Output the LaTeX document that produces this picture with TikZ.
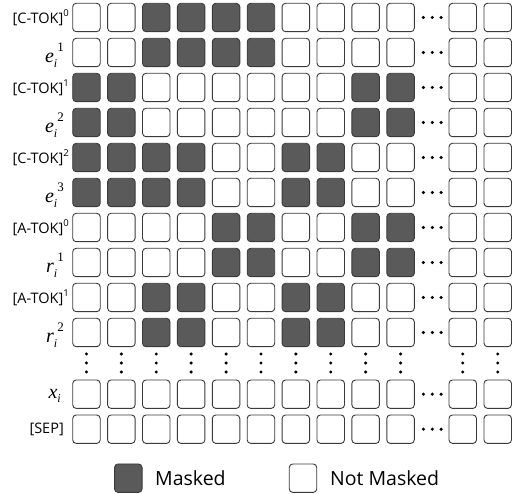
\documentclass[tikz,border=0pt]{standalone}
\usepackage{fontspec}
\setmainfont{Open Sans}
\newfontfamily\serifit{Liberation Serif}[ItalicFont=* Italic]
\definecolor{maskfill}{HTML}{5A5A5A}
\definecolor{edgecol}{HTML}{3A3A3A}
\newcommand{\mylab}[3]{{\serifit\itshape\fontsize{20}{20}\selectfont #1\raisebox{-5pt}{\fontsize{12}{12}\selectfont #2}\raisebox{11pt}{\fontsize{13}{13}\selectfont\upshape #3}}}
\newcommand{\toklab}[2]{{\fontsize{14.5}{14.5}\selectfont [#1]\raisebox{0.45em}{\fontsize{9.5}{9.5}\selectfont #2}}}
\begin{document}
\begin{tikzpicture}[x=1pt,y=-1pt,
  cell/.style={draw=edgecol, rounded corners=3.5pt, minimum width=27.5pt, minimum height=28.4pt, inner sep=0pt, line width=0.9pt, fill=white},
  dark/.style={cell, fill=maskfill},
  lab/.style={anchor=east, inner sep=0pt},
  mlab/.style={anchor=base east, inner sep=0pt}]
\useasboundingbox (0,0) rectangle (512,494);
% mask rows
\foreach \r/\pat in {0/{0,0,1,1,1,1,0,0,0,0},1/{0,0,1,1,1,1,0,0,0,0},2/{1,1,0,0,0,0,0,0,1,1},3/{1,1,0,0,0,0,0,0,1,1},4/{1,1,1,1,0,0,1,1,0,0},5/{1,1,1,1,0,0,1,1,0,0},6/{0,0,0,0,1,1,0,0,1,1},7/{0,0,0,0,1,1,0,0,1,1},8/{0,0,1,1,0,0,1,1,0,0},9/{0,0,1,1,0,0,1,1,0,0}}{
  \pgfmathsetmacro{\yc}{17.5+35*\r}
  \foreach \v [count=\c] in \pat {
    \ifnum\v=1
      \node[dark] (b-\r-\c) at ({86.45+34.9*(\c-1)},\yc) {};
    \else
      \node[cell] (b-\r-\c) at ({86.45+34.9*(\c-1)},\yc) {};
    \fi
  }
  \node[cell] (b-\r-11) at (462.75,\yc) {};
  \node[cell] (b-\r-12) at (497.75,\yc) {};
  \foreach \dx in {423.4,432.3,441.1} \fill (\dx,\yc) circle (1.7);
}
% x_i and SEP rows
\foreach \r/\yc in {x/394.2,s/429.2}{
  \foreach \c in {1,...,10}
    \node[cell] (b-\r-\c) at ({86.45+34.9*(\c-1)},\yc) {};
  \node[cell] (b-\r-11) at (462.75,\yc) {};
  \node[cell] (b-\r-12) at (497.75,\yc) {};
  \foreach \dx in {423.4,432.3,441.1} \fill (\dx,\yc) circle (1.7);
}
% vertical dots
\foreach \xc in {86.45,121.35,156.25,191.15,226.05,260.95,295.85,330.75,365.65,400.55,462.75,497.75}
  \foreach \yy in {354,363,372} \fill (\xc,\yy) circle (1.7);
% labels
\node[lab] (l0) at (69,17.5) {\toklab{C-TOK}{0}};
\node[mlab] (l1) at (64,63) {\mylab{e}{i}{1}};
\node[lab] (l2) at (69,87.5) {\toklab{C-TOK}{1}};
\node[mlab] (l3) at (64,133) {\mylab{e}{i}{2}};
\node[lab] (l4) at (69,157.5) {\toklab{C-TOK}{2}};
\node[mlab] (l5) at (64,203) {\mylab{e}{i}{3}};
\node[lab] (l6) at (69,227.5) {\toklab{A-TOK}{0}};
\node[mlab] (l7) at (64,273) {\mylab{r}{i}{1}};
\node[lab] (l8) at (69,297.5) {\toklab{A-TOK}{1}};
\node[mlab] (l9) at (64,343) {\mylab{r}{i}{2}};
\node[mlab] (lx) at (61,398.2) {{\serifit\itshape\fontsize{20}{20}\selectfont x\raisebox{-4pt}{\fontsize{12}{12}\selectfont i}}};
\node[lab] (ls) at (64,429.2) {{\fontsize{14.5}{14.5}\selectfont [SEP]}};
% legend
\node[dark] (legm) at (128.3,478.2) {};
\node[anchor=west, inner sep=0pt, font=\fontsize{19.5}{19.5}\selectfont] (legmt) at (155,478.2) {Masked};
\node[cell] (legn) at (303,478.2) {};
\node[anchor=west, inner sep=0pt, font=\fontsize{19.5}{19.5}\selectfont] (legnt) at (330,478.2) {Not Masked};
\end{tikzpicture}
\end{document}
